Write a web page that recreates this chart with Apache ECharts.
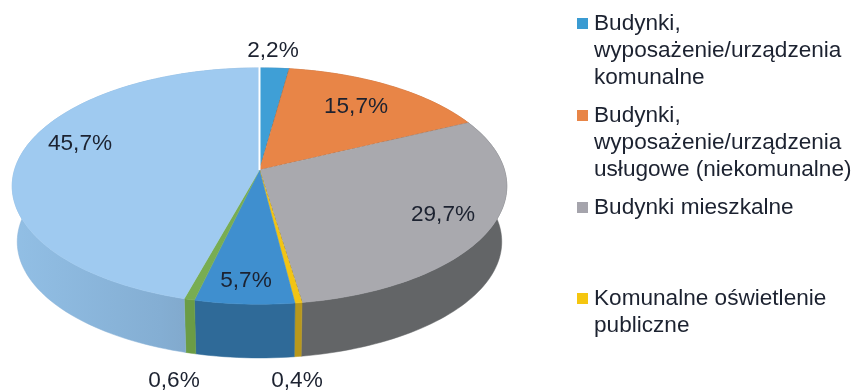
<!DOCTYPE html>
<html><head><meta charset="utf-8">
<style>html,body{margin:0;padding:0;background:#fff}#c{width:854px;height:390px}</style>
<script src="https://cdn.jsdelivr.net/npm/echarts@6/dist/echarts.min.js"></script>
</head><body><div id="c"></div>
<script>
const sliceValues = [2.2, 15.7, 29.7, 0.4, 5.7, 0.6, 45.7];
const sliceLabels = ['2,2%', '15,7%', '29,7%', '0,4%', '5,7%', '0,6%', '45,7%'];
const legendLabels = [
  'Budynki,\nwyposażenie/urządzenia\nkomunalne',
  'Budynki,\nwyposażenie/urządzenia\nusługowe (niekomunalne)',
  'Budynki mieszkalne',
  'Komunalne oświetlenie\npubliczne'
];
const topColors = ['#3f9fd6', '#e88547', '#a9a9ae', '#f2c414', '#3f8fcf', '#78ad52', '#9fcaf0'];
const sideColors = ['#2f7aa6', '#b5683a', '#636567', '#b8981c', '#2f6a98', '#6b9c45', '#86b0d6'];
const legendColors = ['#3a9bd2', '#e88547', '#a5a4ac', '#f5c60f'];
const legendY = [23, 115, 207, 298];
const labelAnchors = [[273, 51], [356, 107], [443, 215], [297, 381], [246, 281], [174, 381], [80, 144]];

const FONT = '"Liberation Sans", Arial, sans-serif';
const TEXT = '#1c2230';
const geo = {cx: 259.5, cy: 170, R: 245, b: 116, k: 0.136};
const low = {cx: 259.5, cy: 226, R: 240, b: 114, k: 0.136};
function proj(g, deg, r) {
  const t = deg * Math.PI / 180, u = Math.sin(t) * r, v = -Math.cos(t) * r, w = 1 - g.k * v;
  return [g.cx + g.R * u / w, g.cy + g.b * v / w];
}
function arc(g, a, b) {
  const n = Math.max(2, Math.ceil((b - a) / 1.5)), p = [];
  for (let i = 0; i <= n; i++) p.push(proj(g, a + (b - a) * i / n, 1));
  return p;
}
const total = sliceValues.reduce((s, v) => s + v, 0);
function range(i) {
  let s = 0;
  for (let j = 0; j < i; j++) s += sliceValues[j];
  return [s / total * 360, (s + sliceValues[i]) / total * 360];
}
const seriesData = sliceValues.map((v, i) => [i, v]);

function renderSide(params, api) {
  const i = api.value(0), [a, b] = range(i);
  const up = arc(geo, a, b), dn = arc(low, a, b).reverse();
  const fill = i === 6
    ? new echarts.graphic.LinearGradient(0, 0, 1, 0, [{offset: 0, color: '#92bfe5'}, {offset: 0.6, color: '#84aed3'}, {offset: 1, color: '#7b9cbc'}], false)
    : sideColors[i];
  return {type: 'polygon', shape: {points: up.concat(dn)}, style: {fill: fill, stroke: sideColors[i], lineWidth: 0.5}};
}
function renderTop(params, api) {
  const i = api.value(0), [a, b] = range(i);
  const centre = proj(geo, 0, 0);
  const children = [{
    type: 'polygon', shape: {points: [centre].concat(arc(geo, a, b))},
    style: {fill: topColors[i], stroke: topColors[i], lineWidth: 0.5}
  }];
  const edge = proj(geo, b, 1);
  if (i === 0 || i === 1 || i === 2) {
    children.push({
      type: 'line', shape: {x1: centre[0], y1: centre[1], x2: edge[0], y2: edge[1]},
      style: {stroke: i === 1 ? '#8f5a35' : '#6d5a3c', lineWidth: 1, lineDash: [3, 2], opacity: 0.7}
    });
  }
  if (i === 6) {
    const s = proj(geo, 0, 1);
    children.push({
      type: 'line', shape: {x1: centre[0], y1: centre[1], x2: s[0], y2: s[1] - 1},
      style: {stroke: '#ffffff', lineWidth: 2}
    });
  }
  children.push({
    type: 'text', z2: 10,
    style: {x: labelAnchors[i][0], y: labelAnchors[i][1], text: sliceLabels[i], fill: TEXT,
      font: '22.6px ' + FONT, textAlign: 'center', textVerticalAlign: 'middle'}
  });
  return {type: 'group', children: children};
}

const legendGraphics = [];
legendLabels.forEach((t, i) => {
  legendGraphics.push({type: 'rect', left: 577, top: legendY[i] - 5, shape: {width: 11, height: 11}, style: {fill: legendColors[i]}});
  legendGraphics.push({type: 'text', left: 594, top: legendY[i] - 13,
    style: {text: t, fill: TEXT, font: '22.6px ' + FONT, lineHeight: 27}});
});

const chart = echarts.init(document.getElementById('c'), null, {renderer: 'canvas'});
chart.setOption({
  animation: false,
  backgroundColor: '#ffffff',
  series: [
    {type: 'custom', coordinateSystem: 'none', data: seriesData, renderItem: renderSide, z: 1, silent: true},
    {type: 'custom', coordinateSystem: 'none', data: seriesData, renderItem: renderTop, z: 2, silent: true}
  ],
  graphic: legendGraphics
});
</script></body></html>
